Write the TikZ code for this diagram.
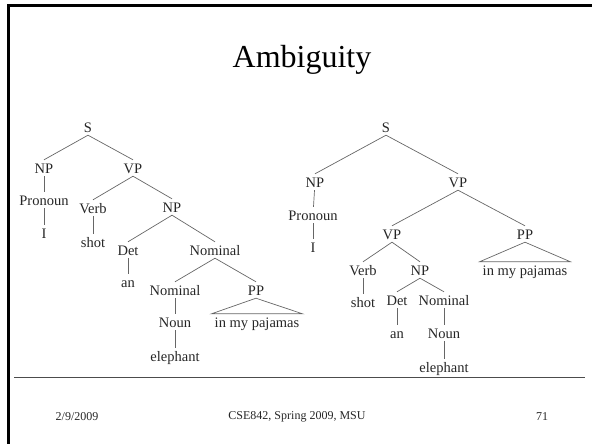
\documentclass[tikz,border=0pt]{standalone}
\usepackage{fontspec}
\setmainfont{Liberation Serif}
\usetikzlibrary{positioning}
\tikzstyle{treeNode}=[text=black!85, inner sep=3pt, text height=10pt, text depth=0pt, font=\fontsize{14.5}{16}\selectfont]
\tikzstyle{treeEdge}=[draw=black!60, line width=0.7pt]
\tikzstyle{footNote}=[text=black!85, font=\fontsize{12}{14}\selectfont]

\begin{document}
\begin{tikzpicture}[x=1pt, y=-1pt]
\useasboundingbox (0,0) rectangle (592,444);

%frame
\draw[line width=3pt, black] (8.5,446) -- (8.5,5.5) -- (594,5.5);

\node (title) [anchor=base, font=\fontsize{32}{36}\selectfont] at (302,68) {Ambiguity};

%left tree
\node (leftS) [treeNode] at (88,127) {S};
\node (leftNP) [treeNode] at (44,168) {NP};
\node (leftVP) [treeNode] at (133,168) {VP};
\node (leftPronoun) [treeNode] at (44,200) {Pronoun};
\node (leftI) [treeNode] at (44,233) {I};
\node (leftVerb) [treeNode] at (93,208) {Verb};
\node (leftShot) [treeNode] at (93,242) {shot};
\node (leftObj) [treeNode] at (172,207) {NP};
\node (leftDet) [treeNode] at (128,250) {Det};
\node (leftAn) [treeNode] at (128,282) {an};
\node (leftNom) [treeNode] at (215,250) {Nominal};
\node (leftNomTwo) [treeNode] at (175,290) {Nominal};
\node (leftNoun) [treeNode] at (175,322) {Noun};
\node (leftElephant) [treeNode] at (175,356) {elephant};
\node (leftPP) [treeNode] at (256,290) {PP};
\node (leftPajamas) [treeNode] at (257,322) {in my pajamas};

\draw[treeEdge]
	(leftS.south) edge (leftNP.north)
	(leftS.south) edge (leftVP.north)
	(leftNP) edge (leftPronoun)
	(leftPronoun) edge (leftI)
	(leftVP.south) edge (leftVerb.north)
	(leftVP.south) edge (leftObj.north)
	(leftVerb) edge (leftShot)
	(leftObj.south) edge (leftDet.north)
	(leftObj.south) edge (leftNom.north)
	(leftDet) edge (leftAn)
	(leftNom.south) edge (leftNomTwo.north)
	(leftNom.south) edge (leftPP.north)
	(leftNomTwo) edge (leftNoun)
	(leftNoun) edge (leftElephant);
\draw[treeEdge] (leftPP.south) -- (leftPajamas.north west) -- (leftPajamas.north east) -- cycle;

%right tree
\node (rightS) [treeNode] at (386,127) {S};
\node (rightNP) [treeNode] at (315,182) {NP};
\node (rightVP) [treeNode] at (458,182) {VP};
\node (rightPronoun) [treeNode] at (313,215) {Pronoun};
\node (rightI) [treeNode] at (313,247) {I};
\node (rightVPTwo) [treeNode] at (392,234) {VP};
\node (rightPP) [treeNode] at (525,234) {PP};
\node (rightPajamas) [treeNode] at (525,270) {in my pajamas};
\node (rightVerb) [treeNode] at (363,270) {Verb};
\node (rightShot) [treeNode] at (363,302) {shot};
\node (rightObj) [treeNode] at (420,270) {NP};
\node (rightDet) [treeNode] at (397,300) {Det};
\node (rightAn) [treeNode] at (397,333) {an};
\node (rightNom) [treeNode] at (444,300) {Nominal};
\node (rightNoun) [treeNode] at (444,333) {Noun};
\node (rightElephant) [treeNode] at (444,367) {elephant};

\draw[treeEdge]
	(rightS.south) edge (rightNP.north)
	(rightS.south) edge (rightVP.north)
	(rightNP) edge (rightPronoun)
	(rightPronoun) edge (rightI)
	(rightVP.south) edge (rightVPTwo.north)
	(rightVP.south) edge (rightPP.north)
	(rightVPTwo.south) edge (rightVerb.north)
	(rightVPTwo.south) edge (rightObj.north)
	(rightVerb) edge (rightShot)
	(rightObj.south) edge (rightDet.north)
	(rightObj.south) edge (rightNom.north)
	(rightDet) edge (rightAn)
	(rightNom) edge (rightNoun)
	(rightNoun) edge (rightElephant);
\draw[treeEdge] (rightPP.south) -- (rightPajamas.north west) -- (rightPajamas.north east) -- cycle;

%footer
\draw[black!70, line width=0.8pt] (14,377) -- (585,377);
\node (date) [footNote] at (77,417) {2/9/2009};
\node (course) [footNote] at (297,417) {CSE842, Spring 2009, MSU};
\node (page) [footNote] at (542,417) {71};

\end{tikzpicture}
\end{document}
